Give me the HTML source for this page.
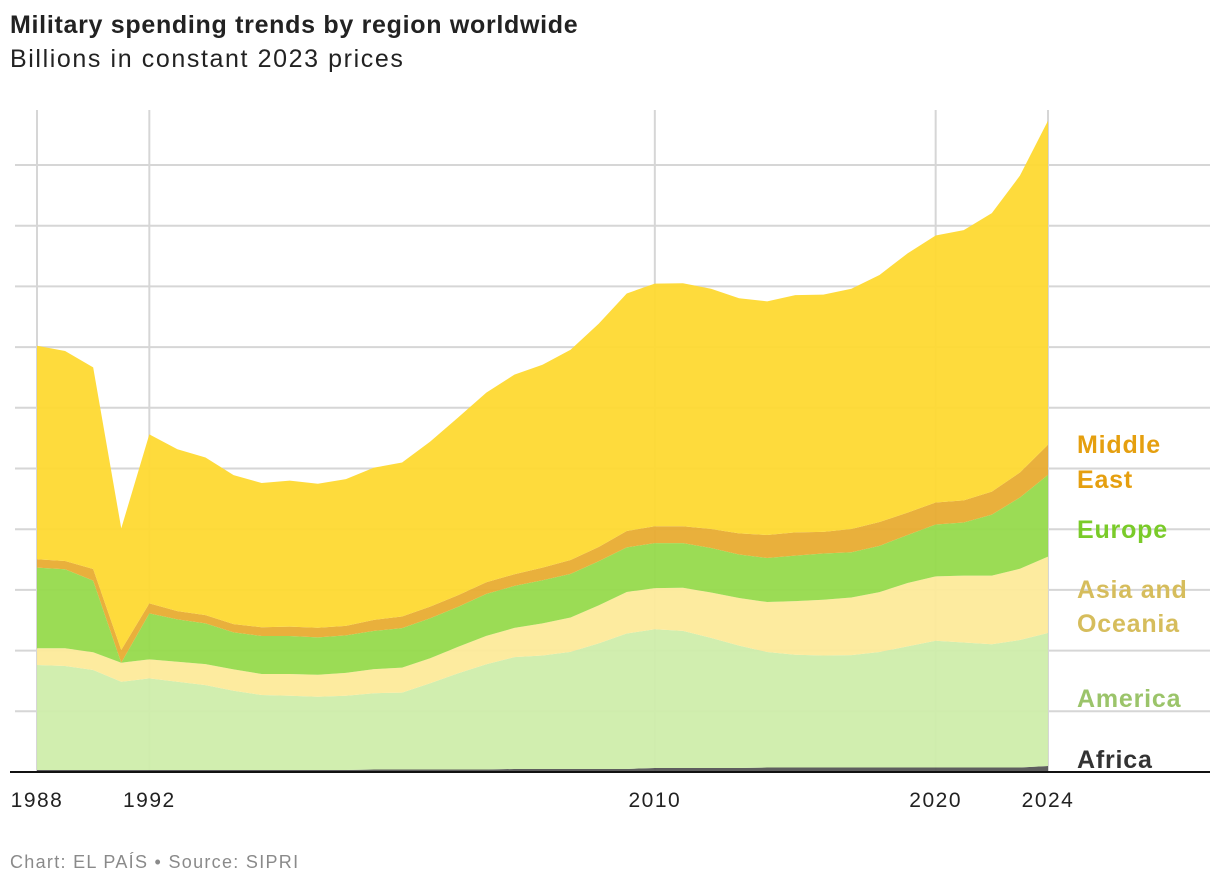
<!DOCTYPE html>
<html><head><meta charset="utf-8">
<style>
body{margin:0;background:#fff;width:1220px;height:888px;overflow:hidden;font-family:"Liberation Sans",sans-serif;}
#title{position:absolute;left:10px;top:11px;font-size:25px;font-weight:bold;color:#222;letter-spacing:0.7px;}
#subtitle{position:absolute;left:10px;top:45px;font-size:25px;color:#222;letter-spacing:1.6px;}
#footer{position:absolute;left:10px;top:852px;font-size:18px;color:#8a8a8a;letter-spacing:1.3px;}
svg{position:absolute;left:0;top:0;}
</style></head><body>
<div id="title">Military spending trends by region worldwide</div>
<div id="subtitle">Billions in constant 2023 prices</div>
<svg id="chart" width="1220" height="888"></svg>
<div id="footer">Chart: EL PAÍS • Source: SIPRI</div>
<script>
const years=[1988,1989,1990,1991,1992,1993,1994,1995,1996,1997,1998,1999,2000,2001,2002,2003,2004,2005,2006,2007,2008,2009,2010,2011,2012,2013,2014,2015,2016,2017,2018,2019,2020,2021,2022,2023,2024];
const africa=[16,16,16,16,16,16,16,16,16,16,16,16,21,21,21,21,21,25,25,25,25,25,33,33,33,33,37,37,37,37,37,37,37,37,37,37,49];
const america=[865,857,824,727,755,727,700,653,618,612,604,612,628,633,710,792,867,921,935,964,1035,1116,1143,1129,1072,1008,951,929,923,926,951,998,1044,1030,1015,1050,1096];
const asiaOceania=[138,146,146,157,157,165,173,176,173,179,181,189,198,206,206,219,233,241,264,284,313,342,339,356,374,392,412,442,459,474,494,522,530,551,566,587,629];
const europe=[664,651,590,0,379,349,335,305,313,313,308,308,315,325,329,329,346,346,355,359,363,367,370,367,366,359,363,374,381,373,381,395,428,437,502,587,673];
const middleEast=[69,68,96,105,82,68,68,68,72,77,79,79,91,96,96,96,96,96,104,114,117,135,139,139,157,174,189,192,178,192,196,185,181,182,189,206,249];
const world=[1759,1730,1661,1002,1392,1334,1299,1227,1189,1203,1186,1208,1254,1268,1359,1464,1562,1644,1672,1732,1839,1957,1999,2002,1979,1936,1925,1954,1954,1979,2035,2135,2199,2227,2295,2445,2669];
const gridValues=[500,1000,1500,2000,2500,3000,3500,4000,4500,5000];
const xTicks=[1988,1992,2010,2020,2024];

const NS="http://www.w3.org/2000/svg";
const svg=document.getElementById('chart');
const x0=37,x1=1048,y0=772,pxPerBn=0.1214;
const xs=y=>x0+(y-1988)*(x1-x0)/(2024-1988);
const ys=v=>y0-v*pxPerBn;
function mk(t,a){const e=document.createElementNS(NS,t);for(const k in a)e.setAttribute(k,a[k]);svg.appendChild(e);return e;}

gridValues.forEach(v=>{
  const l=mk('line',{x1:15,x2:1210,y1:ys(v),y2:ys(v),stroke:'#d6d6d6','stroke-width':2});
  
  
});
xTicks.forEach(t=>{
  const l=mk('line',{x1:xs(t),x2:xs(t),y1:110,y2:772,stroke:'#d6d6d6','stroke-width':2});
  
  
  const tx=mk('text',{x:xs(t),y:807,'text-anchor':'middle','font-size':21,'letter-spacing':1.5,fill:'#222','font-family':'Liberation Sans, sans-serif'});
  tx.textContent=t;
  
  
});

const series=[
  {name:'africa',data:africa,color:'#555555'},
  {name:'america',data:america,color:'#cfedab'},
  {name:'asia-oceania',data:asiaOceania,color:'#fdea9a'},
  {name:'europe',data:europe,color:'#96da4c'},
  {name:'middle-east',data:middleEast,color:'#e8ac31'},
  {name:'world-total',data:world,color:'#fed931'}
];
let base=years.map(()=>0);
series.forEach(s=>{
  const top=base.map((b,i)=>b+s.data[i]);
  let d='M'+years.map((y,i)=>xs(y)+','+ys(top[i])).join('L');
  for(let i=years.length-1;i>=0;i--)d+='L'+xs(years[i])+','+ys(base[i]);
  d+='Z';
  const p=mk('path',{d:d,fill:s.color,'fill-opacity':0.95});
  
  
  base=top;
});
const ax=mk('line',{x1:10,x2:1210,y1:772,y2:772,stroke:'#111','stroke-width':2});



const labels=[
  ['Middle',453,'#e59f0f','middle-east-label'],['East',488,'#e59f0f','middle-east-label'],
  ['Europe',538,'#7acb29','europe-label'],
  ['Asia and',598,'#d6bd5c','asia-oceania-label'],['Oceania',632,'#d6bd5c','asia-oceania-label'],
  ['America',707,'#9bc46a','america-label'],['Africa',768,'#333333','africa-label']];
labels.forEach(l=>{
  const t=mk('text',{x:1077,y:l[1],'font-size':25,'font-weight':'bold','letter-spacing':0.8,fill:l[2],'font-family':'Liberation Sans, sans-serif'});
  t.textContent=l[0];
  
  
});
</script>
</body></html>
